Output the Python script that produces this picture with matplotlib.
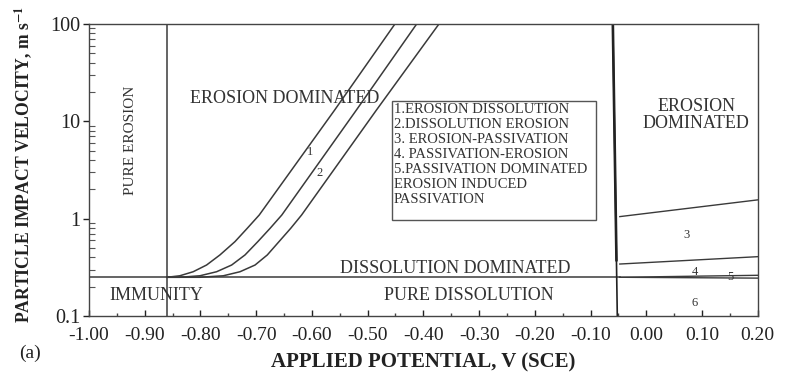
import numpy as np
import matplotlib.pyplot as plt
from matplotlib.patches import Rectangle
from matplotlib.ticker import FixedLocator, NullFormatter

plt.rcParams['font.family'] = ['Liberation Serif', 'DejaVu Serif']
plt.rcParams['mathtext.fontset'] = 'stix'

LINE = '#3a3a3a'
TXT = '#333333'

# boundary curves 1-3: applied potential (V) vs particle velocity (m/s)
c1_x = [-0.860, -0.837, -0.813, -0.789, -0.765, -0.738, -0.716, -0.6945, -0.559, -0.451]
c1_v = [0.250, 0.259, 0.285, 0.334, 0.424, 0.581, 0.796, 1.09, 13.1, 100]
c2_x = [-0.860, -0.837, -0.801, -0.771, -0.744, -0.720, -0.697, -0.675, -0.654, -0.520, -0.412]
c2_v = [0.250, 0.250, 0.259, 0.285, 0.334, 0.424, 0.581, 0.796, 1.09, 13.1, 100]
c3_x = [-0.860, -0.801, -0.759, -0.729, -0.702, -0.680, -0.659, -0.638, -0.6185, -0.484, -0.372]
c3_v = [0.250, 0.250, 0.259, 0.285, 0.334, 0.424, 0.581, 0.796, 1.09, 13.1, 100]

# region boundaries on the passive side (x from -0.05 to 0.20)
right_x = [-0.0475, 0.20]
b_top = [1.05, 1.56]
b_mid = [0.342, 0.407]
b_low1 = [0.250, 0.262]
b_low2 = [0.250, 0.245]

immunity_v = 0.25          # immunity / dissolution boundary
pure_erosion_x = -0.86     # pure erosion boundary
passive_x = [-0.060, -0.052]
passive_v = [100, 0.1]

x_ticks = [-1.00, -0.90, -0.80, -0.70, -0.60, -0.50, -0.40, -0.30, -0.20, -0.10, 0.00, 0.10, 0.20]
x_labels = ['-1.00', '-0.90', '-0.80', '-0.70', '-0.60', '-0.50', '-0.40',
            '-0.30', '-0.20', '-0.10', '0.00', '0.10', '0.20']
y_ticks = [0.1, 1, 10, 100]
y_labels = ['0.1', '1', '10', '100']

legend_lines = ['1.EROSION DISSOLUTION', '2.DISSOLUTION EROSION', '3. EROSION-PASSIVATION',
                '4. PASSIVATION-EROSION', '5.PASSIVATION DOMINATED', 'EROSION INDUCED',
                'PASSIVATION']

fig = plt.figure(figsize=(7.88, 3.79), dpi=100)
ax = fig.add_axes([0.1129, 0.1662, 0.8487, 0.7705])
ax.set_yscale('log')
ax.set_xlim(-1.0, 0.2)
ax.set_ylim(0.1, 100)

for xs, vs in [(c1_x, c1_v), (c2_x, c2_v), (c3_x, c3_v)]:
    ax.plot(xs, vs, color=LINE, lw=1.1, solid_joinstyle='round')

ax.plot([-1.0, right_x[0]], [immunity_v, immunity_v], color=LINE, lw=1.1)
ax.plot([pure_erosion_x, pure_erosion_x], [0.1, 100], color=LINE, lw=1.1)
ax.plot(passive_x, passive_v, color='#222222', lw=1.2)
# heavier upper part of the passive boundary
ax.plot([passive_x[0], -0.0535], [100, 0.375], color='#222222', lw=1.9)

for vs in [b_top, b_mid, b_low1, b_low2]:
    ax.plot(right_x, vs, color=LINE, lw=1.0)

# region names
ax.text(-0.648, 17.0, 'EROSION DOMINATED', fontsize=13, color=TXT, ha='center', va='center')
ax.text(-0.926, 6.44, 'PURE EROSION', fontsize=11, color=TXT, ha='center', va='center', rotation=90)
ax.text(0.090, 11.6, 'EROSION\nDOMINATED', fontsize=13, color=TXT, ha='center', va='center',
        linespacing=0.95)
ax.text(-0.343, 0.311, 'DISSOLUTION DOMINATED', fontsize=13, color=TXT, ha='center', va='center')
ax.text(-0.879, 0.161, 'IMMUNITY', fontsize=13, color=TXT, ha='center', va='center')
ax.text(-0.318, 0.161, 'PURE DISSOLUTION', fontsize=13, color=TXT, ha='center', va='center')

for lbl, x, v in [('1', -0.604, 4.83), ('2', -0.586, 2.95), ('3', 0.072, 0.68),
                  ('4', 0.087, 0.285), ('5', 0.151, 0.25), ('6', 0.087, 0.135)]:
    ax.text(x, v, lbl, fontsize=9, color=TXT, ha='center', va='center')

# key box
ax.add_patch(Rectangle((0.4527, 0.329), 0.3053, 0.408, transform=ax.transAxes,
                       fill=False, edgecolor='#555555', lw=1.0))
for i, line in enumerate(legend_lines):
    py = 109.3 + 15 * i
    ax.text(0.456, 1 - (py - 24) / 292, line, transform=ax.transAxes, fontsize=10.5,
            color=TXT, ha='left', va='center')

ax.set_xticks(x_ticks)
ax.set_xticklabels(x_labels)
ax.xaxis.set_minor_locator(FixedLocator(np.arange(-0.95, 0.2, 0.1)))
ax.set_yticks(y_ticks)
ax.set_yticklabels(y_labels)
ax.yaxis.set_minor_formatter(NullFormatter())

ax.tick_params(axis='x', which='major', direction='in', length=4, width=1, pad=8,
               labelsize=14, colors='#222222')
ax.tick_params(axis='x', which='minor', direction='in', length=2.5, width=1, colors='#444444')
ax.tick_params(axis='y', which='major', direction='out', length=4, width=1, pad=2,
               labelsize=14.5, colors='#222222')
ax.tick_params(axis='y', which='minor', direction='in', length=4, width=0.8, colors='#555555')

for s in ax.spines.values():
    s.set_color('#444444')
    s.set_linewidth(1.0)

ax.set_xlabel('APPLIED POTENTIAL, V (SCE)', fontsize=15, fontweight='bold', color='#222222')
ax.xaxis.set_label_coords(0.5, -0.125)
ax.set_ylabel(r'PARTICLE IMPACT VELOCITY, m s$^{\mathbf{-1}}$', fontsize=12.7,
              fontweight='bold', color='#222222')
ax.yaxis.set_label_coords(-0.080, 0.52)

fig.text(0.038, 0.069, '(a)', fontsize=14, color='#222222', ha='center', va='center')

fig.savefig('out.png', dpi=100)
